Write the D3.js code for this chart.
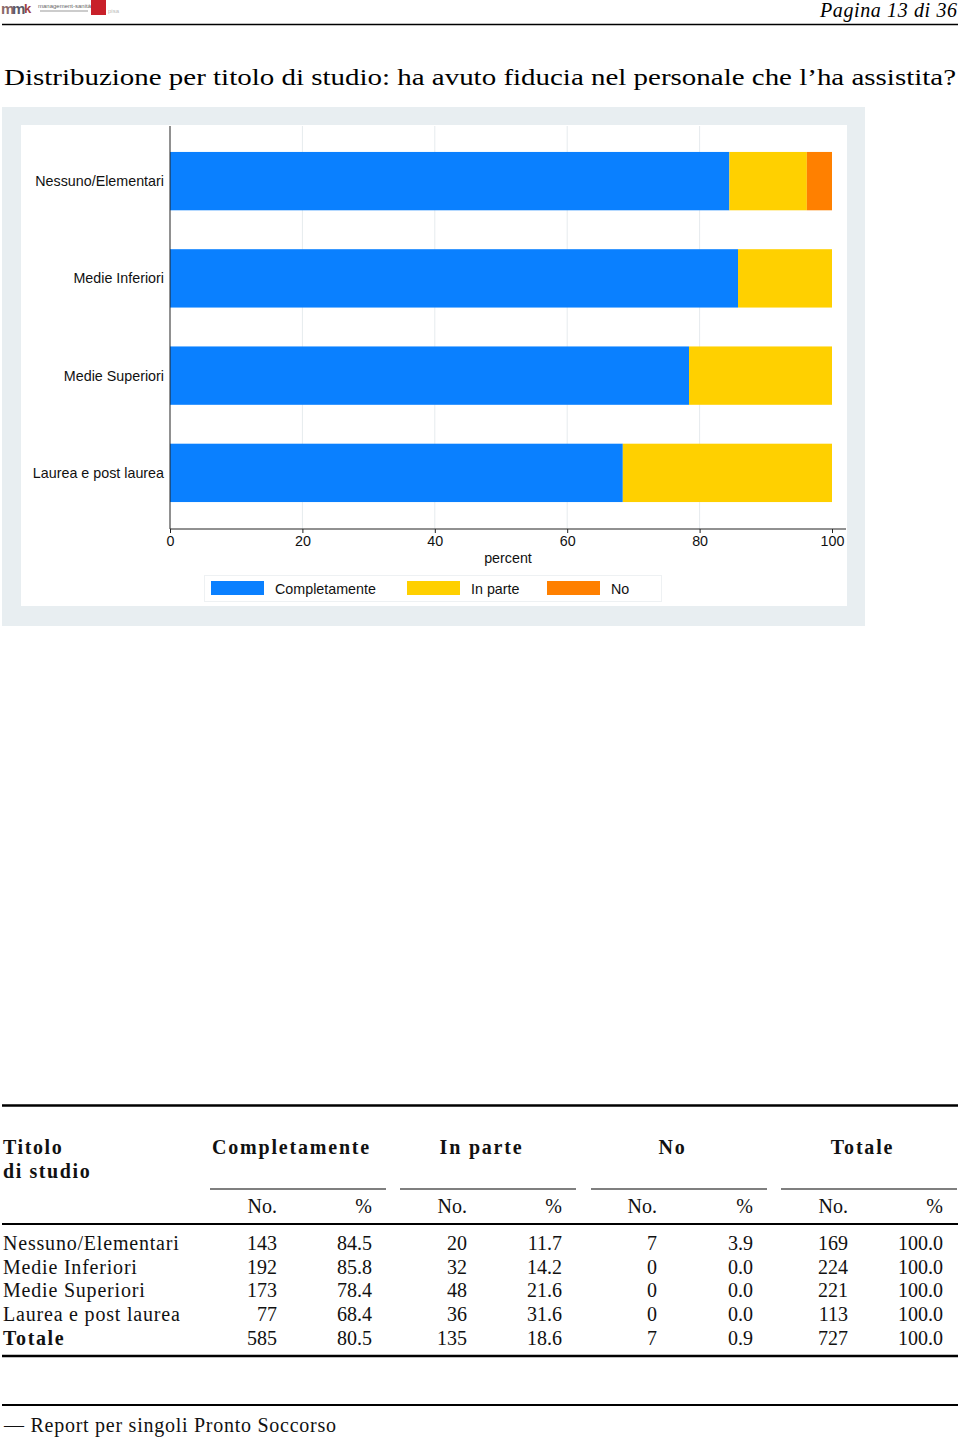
<!DOCTYPE html>
<html><head><meta charset="utf-8">
<script src="https://cdn.jsdelivr.net/npm/d3@7"></script>
<style>
body{margin:0;background:#fff;}
svg{display:block;}
</style></head>
<body>
<svg id="page" width="960" height="1440"></svg>
<script>
// ---- data ----
const categories = ["Nessuno/Elementari","Medie Inferiori","Medie Superiori","Laurea e post laurea"];
const seriesNames = ["Completamente","In parte","No"];
const completNo  = [143,192,173,77];
const completPct = [84.5,85.8,78.4,68.4];
const inParteNo  = [20,32,48,36];
const inPartePct = [11.7,14.2,21.6,31.6];
const noNo       = [7,0,0,0];
const noPct      = [3.9,0.0,0.0,0.0];
const totNo      = [169,224,221,113];
const totPct     = [100.0,100.0,100.0,100.0];
const totalRow   = ["Totale",585,80.5,135,18.6,7,0.9,727,100.0];
const xTicks     = [0,20,40,60,80,100];
const colors     = ["#0a80ff","#ffd000","#ff8000"];

const svg = d3.select("#page");
const serif = "'Liberation Serif','DejaVu Serif',serif";
const sans = "'Liberation Sans',Arial,sans-serif";

// ---- header ----
const logo = svg.append("g");
logo.append("text").attr("x",1).attr("y",14).attr("font-family",sans).attr("font-weight","bold")
  .attr("font-size",15).attr("fill","#8a6a6a").text("m");
logo.append("text").attr("x",12).attr("y",14).attr("font-family",sans).attr("font-weight","bold")
  .attr("font-size",15).attr("fill","#5a5a6a").text("m");
logo.append("text").attr("x",24).attr("y",13).attr("font-family",sans).attr("font-weight","bold")
  .attr("font-size",13).attr("fill","#a04040").text("k");
logo.append("text").attr("x",38).attr("y",8).attr("font-family",sans)
  .attr("font-size",6).attr("fill","#666").text("management-sanità");
logo.append("rect").attr("x",40).attr("y",10).attr("width",48).attr("height",2).attr("fill","#ccc");
logo.append("rect").attr("x",91).attr("y",0).attr("width",15).attr("height",15).attr("fill","#c8202a");
logo.append("text").attr("x",108).attr("y",13).attr("font-family",sans)
  .attr("font-size",6).attr("fill","#bbb").text("pisa");

svg.append("text").attr("x",957).attr("y",17).attr("text-anchor","end")
  .attr("font-family",serif).attr("font-style","italic").attr("font-size",20)
  .attr("textLength",137).attr("lengthAdjust","spacing").text("Pagina 13 di 36");
svg.append("line").attr("x1",2).attr("x2",958).attr("y1",24.5).attr("y2",24.5)
  .attr("stroke","#000").attr("stroke-width",1.6);

svg.append("text").attr("x",4).attr("y",85).attr("font-family",serif).attr("font-size",24)
  .attr("textLength",952).attr("lengthAdjust","spacingAndGlyphs")
  .text("Distribuzione per titolo di studio:  ha avuto fiducia nel personale che l’ha assistita?");

// ---- chart ----
svg.append("rect").attr("x",2).attr("y",107).attr("width",863).attr("height",519).attr("fill","#e8eef1");
svg.append("rect").attr("x",21).attr("y",125).attr("width",826).attr("height",481).attr("fill","#fff");

const x = d3.scaleLinear().domain([0,100]).range([170,832]);
const y = d3.scaleBand().domain(categories).range([132.5,521.5]).paddingInner(0.4).paddingOuter(0.2);

// grid
svg.append("g").selectAll("line").data(xTicks.filter(t=>t>0&&t<100)).join("line")
  .attr("x1",d=>x(d)).attr("x2",d=>x(d)).attr("y1",126).attr("y2",529)
  .attr("stroke","#e6ebee").attr("stroke-width",1);

const rows = categories.map((c,i)=>({cat:c,"Completamente":completPct[i],"In parte":inPartePct[i],"No":noPct[i]}));
const stack = d3.stack().keys(seriesNames)(rows);
svg.append("g").selectAll("g").data(stack).join("g").attr("fill",(d,i)=>colors[i])
  .selectAll("rect").data(d=>d).join("rect")
  .attr("x",d=>x(d[0])).attr("width",d=>Math.max(0,x(Math.min(d[1],100))-x(d[0])))
  .attr("y",d=>y(d.data.cat)).attr("height",y.bandwidth());

// y axis
svg.append("line").attr("x1",170).attr("x2",170).attr("y1",126).attr("y2",529).attr("stroke","#222").attr("stroke-width",1);
svg.append("g").selectAll("text").data(categories).join("text")
  .attr("x",164).attr("y",d=>y(d)+y.bandwidth()/2).attr("dy","0.35em").attr("text-anchor","end")
  .attr("font-family",sans).attr("font-size",14.3).attr("fill","#111").text(d=>d);

// x axis
const xAxis = svg.append("g").attr("transform","translate(0,529)")
  .call(d3.axisBottom(x).tickValues(xTicks).tickSize(4).tickPadding(3).tickFormat(d3.format("d")));
xAxis.select(".domain").remove();
xAxis.append("line").attr("x1",170).attr("x2",846).attr("y1",0).attr("y2",0).attr("stroke","#222");
xAxis.selectAll(".tick line").attr("stroke","#222");
xAxis.selectAll(".tick text").attr("font-family",sans).attr("font-size",14.3).attr("fill","#111");
svg.append("text").attr("x",508).attr("y",563).attr("text-anchor","middle")
  .attr("font-family",sans).attr("font-size",14.3).attr("fill","#111").text("percent");

// legend
const leg = svg.append("g");
leg.append("rect").attr("x",204.5).attr("y",575.5).attr("width",457).attr("height",26)
  .attr("fill","#fff").attr("stroke","#eef1f3");
const legX = [211,407,547];
seriesNames.forEach((s,i)=>{
  leg.append("rect").attr("x",legX[i]).attr("y",581).attr("width",53).attr("height",14).attr("fill",colors[i]);
  leg.append("text").attr("x",legX[i]+64).attr("y",593.5).attr("font-family",sans).attr("font-size",14.3)
    .attr("fill","#111").text(s);
});

// ---- table ----
const T = svg.append("g").attr("font-family",serif).attr("font-size",20).attr("fill","#111");
T.append("line").attr("x1",2).attr("x2",958).attr("y1",1105.5).attr("y2",1105.5).attr("stroke","#000").attr("stroke-width",2.5);
T.append("text").attr("x",3).attr("y",1154).attr("font-weight","bold").attr("letter-spacing",1.6).text("Titolo");
T.append("text").attr("x",3).attr("y",1178).attr("font-weight","bold").attr("letter-spacing",1.6).text("di studio");
const groups = ["Completamente","In parte","No","Totale"];
const gx = [[210,386],[400,576],[591,767],[781,957]];
groups.forEach((g,i)=>{
  T.append("text").attr("x",(gx[i][0]+gx[i][1])/2-6.5).attr("y",1154).attr("text-anchor","middle")
    .attr("font-weight","bold").attr("letter-spacing",1.8).text(g);
  T.append("line").attr("x1",gx[i][0]).attr("x2",gx[i][1]).attr("y1",1189).attr("y2",1189)
    .attr("stroke","#000").attr("stroke-width",1.2);
});
const colRight = [277,372,467,562,657,753,848,943];
colRight.forEach((cx,i)=>{
  T.append("text").attr("x",cx).attr("y",1213).attr("text-anchor","end").text(i%2===0?"No.":"%");
});
T.append("line").attr("x1",2).attr("x2",958).attr("y1",1224).attr("y2",1224).attr("stroke","#000").attr("stroke-width",2);
const rowY = [1250,1274,1297,1321,1345];
const fmt1 = d3.format(".1f");
categories.forEach((c,i)=>{
  T.append("text").attr("x",3).attr("y",rowY[i]).attr("letter-spacing",0.8).text(c);
  const vals=[completNo[i],fmt1(completPct[i]),inParteNo[i],fmt1(inPartePct[i]),noNo[i],fmt1(noPct[i]),totNo[i],fmt1(totPct[i])];
  vals.forEach((v,j)=>T.append("text").attr("x",colRight[j]).attr("y",rowY[i]).attr("text-anchor","end").text(v));
});
T.append("text").attr("x",3).attr("y",rowY[4]).attr("font-weight","bold").attr("letter-spacing",1.6).text(totalRow[0]);
totalRow.slice(1).forEach((v,j)=>T.append("text").attr("x",colRight[j]).attr("y",rowY[4]).attr("text-anchor","end")
  .text(j%2===1?fmt1(v):v));
T.append("line").attr("x1",2).attr("x2",958).attr("y1",1356).attr("y2",1356).attr("stroke","#000").attr("stroke-width",2.5);

// ---- footer ----
svg.append("line").attr("x1",2).attr("x2",958).attr("y1",1405).attr("y2",1405).attr("stroke","#000").attr("stroke-width",2);
svg.append("text").attr("x",4).attr("y",1432).attr("font-family",serif).attr("font-size",20).attr("fill","#111")
  .attr("textLength",332).attr("lengthAdjust","spacing")
  .text("— Report per singoli Pronto Soccorso");
</script>
</body></html>
